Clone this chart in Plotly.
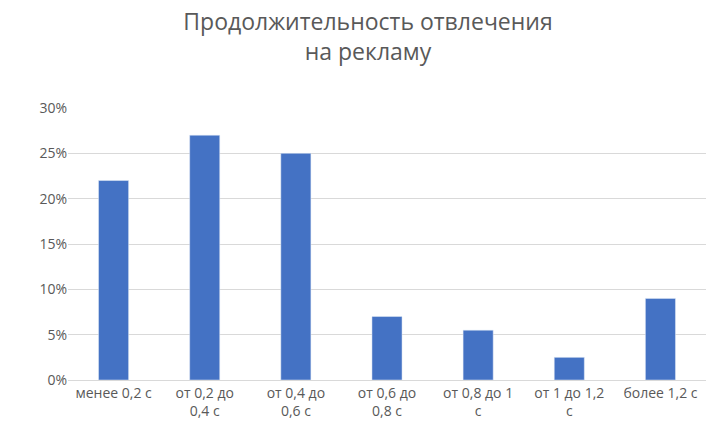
import plotly.graph_objects as go

categories = ["менее 0,2 с", "от 0,2 до<br>0,4 с", "от 0,4 до<br>0,6 с", "от 0,6 до<br>0,8 с",
              "от 0,8 до 1<br>с", "от 1 до 1,2<br>с", "более 1,2 с"]
values = [0.22, 0.27, 0.25, 0.07, 0.055, 0.025, 0.09]

fig = go.Figure(go.Bar(x=categories, y=values, marker_color="#4472C4", width=0.33))
fig.update_layout(
    width=720, height=433,
    margin=dict(l=60, r=22, t=100, b=61),
    paper_bgcolor="white", plot_bgcolor="white",
    font=dict(family="Open Sans, Liberation Sans, sans-serif", color="#595959", size=14),
    title=dict(text="Продолжительность отвлечения<br>на рекламу", x=0.5, xanchor="center",
               y=0.95, yanchor="top", font=dict(size=23, color="#595959")),
    showlegend=False,
    bargap=0.67,
)
fig.update_yaxes(range=[0, 0.30], dtick=0.05, tickformat=".0%", gridcolor="#D9D9D9",
                 zeroline=False, ticks="", showline=False)
fig.update_xaxes(showline=True, linecolor="#D9D9D9", ticks="", tickangle=0)
fig.write_html("out.html")
